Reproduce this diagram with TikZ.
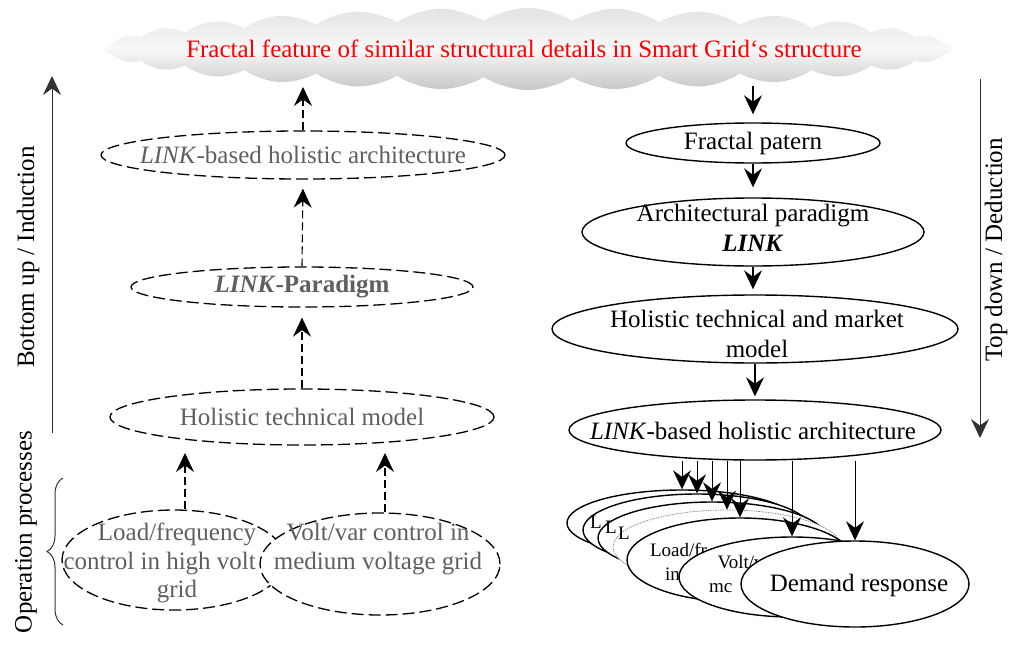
\documentclass[tikz,border=0pt]{standalone}
\usepackage{fontspec}
\setmainfont{Liberation Serif}
\usetikzlibrary{shapes.geometric,shapes.symbols,arrows.meta,decorations.pathreplacing}
\definecolor{txtgray}{RGB}{95,95,95}
\definecolor{linegray}{RGB}{50,50,50}
\begin{document}
\begin{tikzpicture}[x=1pt,y=-1pt,
  tip/.style={-{Stealth[length=19pt,width=18pt,inset=6.5pt]}},
  ell/.style={ellipse,draw,line width=1.4pt,fill=white,inner sep=0pt},
  dell/.style={ell,dash pattern=on 12pt off 5pt,line width=1.3pt},
  big/.style={font=\fontsize{25}{28.5}\selectfont,align=center,inner sep=0pt},
  small/.style={font=\fontsize{19}{24.5}\selectfont,align=center,inner sep=0pt},
  gtext/.style={big,text=txtgray},
  darr/.style={tip,line width=1.1pt,dash pattern=on 8pt off 4pt},
  sarr/.style={tip,line width=1.1pt},
  axis/.style={tip,line width=1pt,draw=linegray}
]
\useasboundingbox (0,0) rectangle (1009,645);

% cloud
\node[cloud,cloud puffs=30,cloud puff arc=65,cloud ignores aspect,
  minimum width=845pt,minimum height=82pt,inner sep=0pt,
  top color=gray!22,bottom color=gray!45,middle color=gray!5] (cloud) at (528,49) {};
\node[big,text=red] (cloudtext) at (524,49) {Fractal feature of similar structural details in Smart Grid‘s structure};
\coordinate (cL) at (303,87);
\coordinate (cR) at (753,86);

% left column (bottom up)
\node[dell,minimum width=404pt,minimum height=48pt] (lba) at (303,155) {};
\node[gtext] (lbat) at (lba) {\textit{LINK}-based holistic architecture};
\node[dell,minimum width=342pt,minimum height=40pt] (lpar) at (302,287) {};
\node[gtext] (lpart) at (lpar) {\textbf{\textit{LINK}-Paradigm}};
\node[dell,minimum width=384pt,minimum height=56pt] (htm) at (302,417) {};
\node[gtext] (htmt) at (htm) {Holistic technical model};
\node[dell,minimum width=224pt,minimum height=100pt] (lfc) at (174,560) {};
\node[gtext] (lfct) at (177,563) {Load/frequency\\\makebox[227pt][l]{control in high volt}\\grid};
\node[dell,minimum width=240pt,minimum height=102pt] (vvc) at (380,564) {};
\node[gtext] (vvct) at (378,549) {Volt/var control in\\medium voltage grid};

\coordinate (a1) at (185,453);
\coordinate (a2) at (385,453);
\draw[darr] (a1 |- lfc.north) -- (a1);
\draw[darr] (a2 |- vvc.north) -- (a2);
\draw[darr,shorten >=10pt] (htm.north) -- (lpar.south);
\draw[darr,shorten >=9pt] (lpar.north) -- (lba.south);
\draw[darr] (lba.north) -- (cL);

% side annotations left
\coordinate (buB) at (52,433);
\coordinate (buT) at (52,76);
\draw[axis] (buB) -- (buT);
\node[big,rotate=90] (butext) at (28,257) {Bottom up / Induction};
\node[big,rotate=90] (optext) at (26,532) {Operation processes};
\coordinate (brB) at (63,625);
\coordinate (brT) at (63,478);
\draw[line width=1pt,draw=linegray,decorate,decoration={brace,amplitude=16pt}] (brB) -- (brT);

% right column (top down)
\node[ell,minimum width=254pt,minimum height=40pt] (fp) at (753,143) {};
\node[big] (fpt) at (fp) {Fractal patern};
\node[ell,minimum width=342pt,minimum height=68pt] (ap) at (753,232) {};
\node[big,font=\fontsize{25}{30}\selectfont] (apt) at (753,228) {Architectural paradigm\\\textbf{\textit{LINK}}};
\node[ell,minimum width=406pt,minimum height=68pt] (hm) at (755,329) {};
\node[big,font=\fontsize{25}{30}\selectfont] (hmt) at (757,334) {Holistic technical and market\\model};
\node[ell,minimum width=372pt,minimum height=60pt] (lbr) at (755,430) {};
\node[big] (lbrt) at (753,431) {\textit{LINK}-based holistic architecture};

\draw[sarr,shorten >=8pt] (cR) -- (fp.north);
\draw[sarr,shorten >=10pt] (fp.south) -- (ap.north);
\draw[sarr,shorten >=5pt] (ap.south) -- (ap.south |- hm.north);
\draw[sarr,shorten >=3pt] (hm.south) -- (hm.south |- lbr.north);

\coordinate (tdT) at (980,79);
\coordinate (tdB) at (980,438);
\draw[axis] (tdT) -- (tdB);
\node[big,rotate=90] (tdtext) at (996,250) {Top down / Deduction};

% stack of operation processes
\node[ell,minimum width=230pt,minimum height=66pt] (e1) at (682,523) {};
\node[ell,minimum width=228pt,minimum height=72pt] (e2) at (697,530) {};
\node[small,anchor=west] (e2t) at (590,522) {L};
\node[ell,minimum width=228pt,minimum height=72pt] (e3) at (712,538) {};
\node[small,anchor=west] (e3t) at (605,527) {L};
\node[ell,draw=gray,densely dotted,line width=0.7pt,minimum width=228pt,minimum height=74pt] (e4) at (727,547) {};
\node[small,anchor=west] (e4t) at (618,533) {L};
\node[ell,minimum width=226pt,minimum height=84pt] (e5) at (740,560) {};
\node[small] (e5t) at (740,562) {\makebox[180pt][l]{Load/fr}\\\makebox[150pt][l]{in}};
\node[ell,minimum width=226pt,minimum height=80pt] (e6) at (792,577) {};
\node[small] (e6t) at (788,574) {\makebox[141pt][l]{Volt/va}\\\makebox[158pt][l]{mc}};
\node[ell,minimum width=228pt,minimum height=86pt] (e7) at (855,584) {};
\node[big] (e7t) at (859,585) {Demand response};

\foreach \e in {e1,e2,e3,e4,e5,e6,e7}{
  \draw[sarr,line width=0.9pt] (\e.north |- lbr.south) -- (\e.north);
}
\end{tikzpicture}
\end{document}
